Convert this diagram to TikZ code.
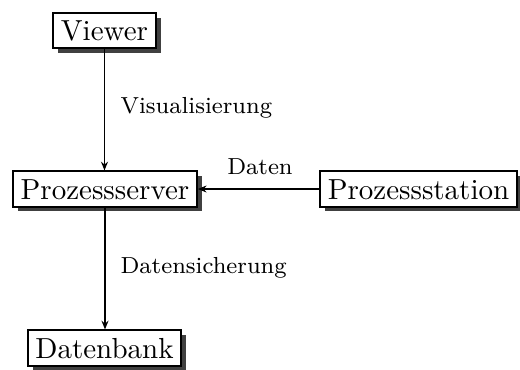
\documentclass[tikz,border=0pt]{standalone}
\usetikzlibrary{shadows,arrows.meta}
\begin{document}
\begin{tikzpicture}[x=0.3448pt,y=-0.3448pt,
  box/.style={draw, line width=0.7pt, fill=white, inner xsep=2.6pt, inner ysep=2.6pt,
    text height=6.9pt, text depth=0pt, font=\fontsize{10}{12}\selectfont,
    drop shadow={shadow xshift=1.7pt, shadow yshift=-1.7pt, fill=black!75, opacity=1}},
  conn/.style={line width=0.65pt, -{Stealth[length=3pt,width=2.4pt]}},
  lbl/.style={font=\fontsize{8}{10}\selectfont, inner sep=0pt}]
\useasboundingbox (0,0) rectangle (520,369);
\node[box] (viewer) at (104.5,30.5) {Viewer};
\node[box] (server) at (105,189) {Prozessserver};
\node[box] (station) at (418.5,189) {Prozessstation};
\node[box] (db) at (104.5,348) {Datenbank};
\draw[conn] (viewer.south) -- (viewer.south |- server.north);
\draw[conn] (station.west) -- (server.east);
\draw[conn] (server.south) -- (server.south |- db.north);
\node[lbl, anchor=west] (l1) at (120,108) {Visualisierung};
\node[lbl] (l2) at (260,167) {Daten};
\node[lbl, anchor=west] (l3) at (120,268) {Datensicherung};
\end{tikzpicture}
\end{document}
